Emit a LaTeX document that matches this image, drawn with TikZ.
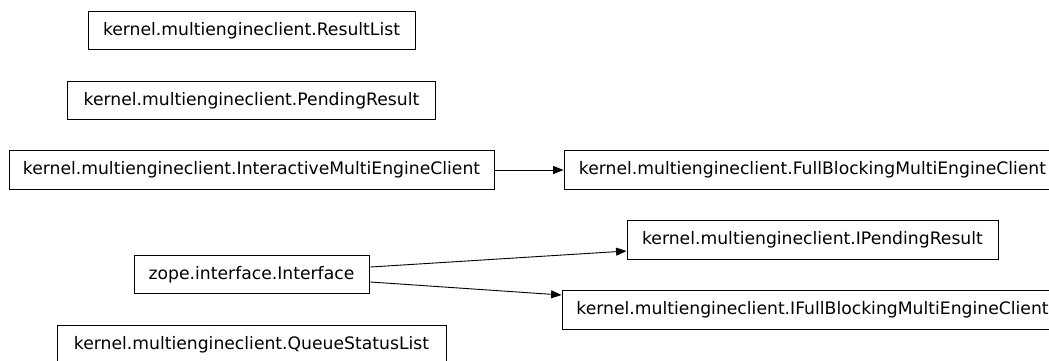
\documentclass[tikz,border=0pt]{standalone}
\usepackage{fontspec}
\setmainfont{DejaVu Sans}
\usetikzlibrary{arrows.meta}
\begin{document}
\begin{tikzpicture}[x=1pt,y=-1pt,
  cls/.style={draw=black, line width=0.9pt, minimum height=38.5pt, inner sep=0pt,
    font=\fontsize{17.2}{20}\selectfont, text height=12.5pt, text depth=3.5pt},
  inh/.style={draw=black, line width=0.9pt, -{Triangle[length=10.5pt,width=8pt]}}]
\useasboundingbox (0,0) rectangle (1049,360);
\clip (0,0) rectangle (1049,360);
\node[cls, minimum width=327pt] (res) at (251.5,30.5) {kernel.multiengineclient.ResultList};
\node[cls, minimum width=368pt] (pend) at (251.5,100.5) {kernel.multiengineclient.PendingResult};
\node[cls, minimum width=485pt] (inter) at (251.5,170) {kernel.multiengineclient.InteractiveMultiEngineClient};
\node[cls, minimum width=235pt] (zope) at (251.5,274.5) {zope.interface.Interface};
\node[cls, minimum width=389pt] (queue) at (251.5,344.5) {kernel.multiengineclient.QueueStatusList};
\node[cls, minimum width=497pt] (full) at (812.5,170) {kernel.multiengineclient.FullBlockingMultiEngineClient};
\node[cls, minimum width=371pt] (ipend) at (812.5,240) {kernel.multiengineclient.IPendingResult};
\node[cls, minimum width=501pt] (ifull) at (812.5,310) {kernel.multiengineclient.IFullBlockingMultiEngineClient};
\draw[inh] ([xshift=1pt]inter.east) -- (full.west);
\draw[inh] ([xshift=1pt,yshift=7.5pt]zope.east) -- ([yshift=-11pt]ipend.west);
\draw[inh] ([xshift=1pt,yshift=-7.5pt]zope.east) -- ([yshift=15pt]ifull.west);
\end{tikzpicture}
\end{document}
